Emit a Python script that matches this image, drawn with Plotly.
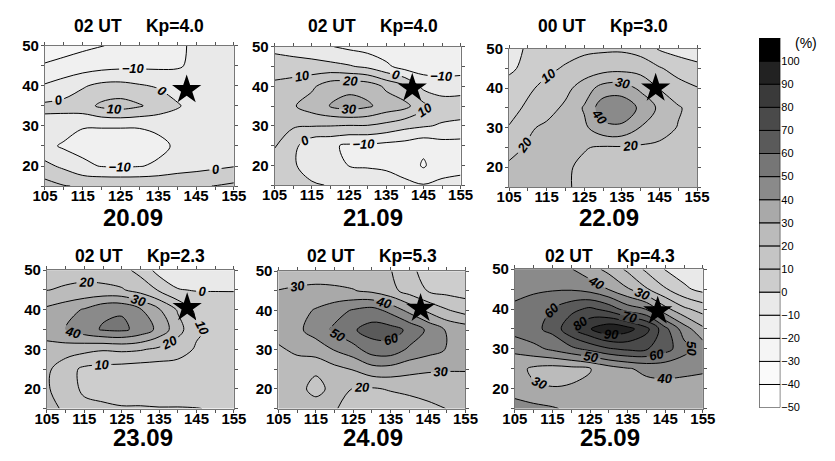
import plotly.graph_objects as go

# ---------------- data ----------------
LON = [105, 110, 115, 120, 125, 130, 135, 140, 145, 150, 155]
LAT = [15, 20, 25, 30, 35, 40, 45, 50]

# rows: LAT 15 ... 50 ; columns: LON 105 ... 155  (values in %)
Z_2009 = [
    [14, 10.5, 9, 9, 9, 9, 9, 8.5, 9, 10.2, 12],
    [2.5, -2, -8, -10.5, -11, -10.5, -8.5, -5, -3.5, -2, -0.5],
    [-7, -11.5, -13, -14, -14, -13.5, -12.5, -8.5, -6, -5, -4],
    [-3, -5, -9.5, -9.5, -9.5, -9.5, -8, -6, -5, -5, -5],
    [2, 3, 6, 12, 14, 11, 6, 1, -4, -5, -5],
    [-9, -5.4, -1, 2.5, 3, 1, -1, -4.3, -5, -5, -5],
    [-19, -17, -15, -13.5, -12.5, -12, -12, -11, -8, -7, -6],
    [-26, -24, -22, -20.5, -17, -15, -13, -11, -9, -8, -7],
]
Z_2109 = [
    [6, 4, 1, -0.5, -3, -5, -6, -9, -9.5, -9, -8],
    [7, 1, -4, -8, -10.2, -10.8, -11.5, -12, -21.5, -12, -12],
    [10.5, 3, -7, -8.5, -11.5, -11.5, -13, -14, -17, -14, -14],
    [13, 11, 10.5, 10.2, 9.5, 9.5, 7, 3, 1, -1, -2],
    [14, 19, 25, 30.5, 34, 31.5, 26, 23, 13, 5, 4.5],
    [12, 14, 18, 26, 27, 26, 18, 11, -3, -5, -4],
    [5.5, 5, 4.3, 2.9, 1, -2, -8, -14, -15, -15, -15],
    [-3, -5, -7, -9.5, -12, -14, -16, -17, -17, -17, -17],
]
Z_2209 = [
    [24, 24, 23, 21, 18, 16.5, 16, 15.5, 15, 14.5, 14],
    [21.5, 23, 22.5, 21, 18.5, 17, 16.5, 16, 15.5, 15, 14],
    [17, 21, 22, 21.5, 20.5, 19, 19, 18.5, 18, 17, 15],
    [10.5, 18.5, 22, 24, 28, 37, 38, 29.5, 24, 19.5, 15],
    [7, 11.5, 16, 22, 31, 46, 47, 38, 28, 21, 16],
    [4, 8.5, 12.5, 17, 25, 34, 35, 28, 19.5, 14, 10.5],
    [-2, 3, 8, 11, 14, 16, 17, 16, 11, 6, 3],
    [-3, 1, 4, 6.5, 8, 8.5, 8.5, 6, -1, -4, -6],
]
Z_2309 = [
    [22, 19, 13, 12.5, 11, 11, 10.5, 10.5, 10.2, 9.5, 9],
    [21, 15, 8, 5, 4, 4, 4, 4.5, 5, 5.5, 6],
    [22, 14, 8, 7, 6, 5, 5, 6, 6, 6.5, 7],
    [27, 25, 23, 21, 22, 21, 18, 14, 9, 8, 7],
    [34, 40.5, 46, 51, 52, 47, 37, 24, 11.5, 8, 7],
    [32, 36, 41, 48, 49, 41, 31, 19, 7.5, 6, 5.5],
    [19.8, 21, 22, 22, 21, 16, 9, 0.5, -0.5, -0.5, -0.5],
    [17, 17, 17, 16, 13, 7, -4, -6, -7, -8, -9],
]
Z_2409 = [
    [27, 27, 26, 21, 15, 14, 14, 15, 17, 20.2, 23],
    [26, 24, 16, 24, 19.5, 19, 20.8, 22.5, 25, 26, 26],
    [25, 25, 22, 27, 30.5, 36, 36, 33, 31, 30.5, 30.5],
    [28.5, 32, 35, 40.5, 46, 55, 56, 48, 44, 39.5, 35],
    [34, 38, 44, 52, 59, 64, 64, 58, 48, 39, 36],
    [33, 36, 41, 46, 51, 54, 47, 37, 28, 21, 16],
    [30.3, 31.5, 32, 31.5, 30.5, 28, 23, 16, 9.5, 7, 6],
    [24, 25, 26, 26, 25, 23, 20.5, 12, 7, 5, 4],
]
Z_2509 = [
    [45, 43, 41, 38, 36, 35, 35, 35, 36, 36, 36],
    [35, 31.5, 30.5, 31, 32, 33.5, 35, 36, 37, 37, 37],
    [34, 28, 26, 27, 29.5, 35, 39, 42.5, 43, 42, 41],
    [42, 47, 52, 57.5, 63, 69, 72, 71, 64, 54, 46],
    [55, 57.5, 63, 78, 89.5, 98, 94, 83, 63, 45, 32],
    [52, 56, 60, 67, 72, 66, 55, 49.5, 33, 22, 16],
    [47, 48, 49, 49, 46, 39.5, 31, 21, 11, 2, -3],
    [46, 45, 43, 40.5, 34, 27, 18, 8, -0.5, -5, -8],
]
Z_PANELS = [Z_2009, Z_2109, Z_2209, Z_2309, Z_2409, Z_2509]

DATES = ["20.09", "21.09", "22.09", "23.09", "24.09", "25.09"]
UT = ["02 UT", "02 UT", "00 UT", "02 UT", "02 UT", "02 UT"]
KP = ["Kp=4.0", "Kp=4.0", "Kp=3.0", "Kp=2.3", "Kp=5.3", "Kp=4.3"]
STAR_LON = [142.5, 142, 144, 142.5, 143, 143]
STAR_LAT = [39, 39.5, 40, 40.5, 40.5, 39.5]

X_TICK_TEXT = ["105", "", "115", "", "125", "", "135", "", "145", "", "155"]
Y_TICK_TEXT = ["", "20", "", "30", "", "40", "", "50"]

# contour levels / colour bands (-50 ... 110 step 10)
LEVEL_START, LEVEL_END, LEVEL_STEP = -50, 110, 10
BAND_LOWER = [-50, -40, -30, -20, -10, 0, 10, 20, 30, 40, 50, 60, 70, 80, 90, 100]
BAND_HEIGHT = [10] * 16
BAND_COLORS = ["#ffffff", "#fafafa", "#f5f5f5", "#f0f0f0", "#e9e9e9", "#cdcdcd",
               "#c5c5c5", "#bbbbbb", "#a9a9a9", "#8a8a8a", "#767676", "#5a5a5a",
               "#4a4a4a", "#3a3a3a", "#222222", "#000000"]
CB_TICKS = [-50, -40, -30, -20, -10, 0, 10, 20, 30, 40, 50, 60, 70, 80, 90, 100]

# ---------------- layout geometry (pixels) ----------------
W, H = 835, 461
PANEL_BOX = [(33, 228, 38, 183), (270, 462, 39, 182), (512, 706, 41, 184),
             (35, 228, 270, 413), (274, 467, 271, 413), (518, 712, 269, 413)]
TITLE_POS = [(130, 18), (372, 18), (609, 18), (131, 255), (371, 255), (616, 255)]
DATE_POS = [(124, 216), (372, 216), (615, 216), (134, 443), (372, 443), (616, 443)]
FONT = "Liberation Sans, Arial, sans-serif"


def fx(p):
    return p / W


def fy(p):
    return 1 - p / H


# stepped colour scale matched to plotly's contour fill mapping
n_levels = int((LEVEL_END - LEVEL_START) / LEVEL_STEP) + 1
span = n_levels * LEVEL_STEP
cs = [[0.0, BAND_COLORS[0]]]
for k, col in enumerate(BAND_COLORS):
    lo = (BAND_LOWER[k] - LEVEL_START + LEVEL_STEP / 2) / span
    hi = (BAND_LOWER[k] - LEVEL_START + 1.5 * LEVEL_STEP) / span
    cs.append([lo, col])
    cs.append([min(hi, 1.0), col])
cs.append([1.0, BAND_COLORS[-1]])

fig = go.Figure()
layout_axes = {}
annotations = []

for i in range(6):
    n = "" if i == 0 else str(i + 1)
    xa, ya = "x" + n, "y" + n
    fig.add_trace(go.Contour(
        x=LON, y=LAT, z=Z_PANELS[i], xaxis=xa, yaxis=ya,
        autocontour=False,
        contours=dict(start=LEVEL_START, end=LEVEL_END, size=LEVEL_STEP,
                      coloring="fill", showlabels=True,
                      labelfont=dict(family=FONT, size=13, color="black",
                                     weight="bold", style="italic")),
        colorscale=cs, showscale=False,
        line=dict(color="black", width=1, smoothing=1.0),
        hoverinfo="skip",
    ))
    fig.add_trace(go.Scatter(
        x=[STAR_LON[i]], y=[STAR_LAT[i]], xaxis=xa, yaxis=ya, mode="markers",
        marker=dict(symbol="star", size=22, color="black", line=dict(width=0)),
        hoverinfo="skip", showlegend=False,
    ))
    l, r, t, b = PANEL_BOX[i]
    tf = dict(family=FONT, size=15, color="black", weight="bold")
    layout_axes["xaxis" + n] = dict(
        domain=[fx(l), fx(r)], range=[105, 155], anchor=ya,
        tickvals=LON, ticktext=X_TICK_TEXT, ticks="outside", ticklen=3,
        tickcolor="#555", showline=True, linecolor="#777", linewidth=1,
        mirror="ticks", showgrid=False, zeroline=False, tickfont=tf,
        ticklabelstandoff=-7, fixedrange=True)
    layout_axes["yaxis" + n] = dict(
        domain=[fy(b), fy(t)], range=[15, 50], anchor=xa,
        tickvals=LAT, ticktext=Y_TICK_TEXT, ticks="outside", ticklen=3,
        tickcolor="#555", showline=True, linecolor="#777", linewidth=1,
        mirror="ticks", showgrid=False, zeroline=False, tickfont=tf,
        ticklabelstandoff=-1, fixedrange=True)
    tx, ty = TITLE_POS[i]
    annotations.append(dict(
        x=fx(tx), y=fy(ty), xref="paper", yref="paper", showarrow=False,
        xanchor="center", yanchor="middle",
        text=UT[i] + "\u00a0" * 5 + KP[i],
        font=dict(family=FONT, size=17.5, color="black", weight="bold")))
    dx, dy = DATE_POS[i]
    annotations.append(dict(
        x=fx(dx), y=fy(dy), xref="paper", yref="paper", showarrow=False,
        xanchor="center", yanchor="middle", text=DATES[i],
        font=dict(family=FONT, size=24, color="black", weight="bold")))

# colour bar drawn as stacked bands
fig.add_trace(go.Bar(
    x=[0] * len(BAND_LOWER), y=BAND_HEIGHT, base=BAND_LOWER, width=1,
    marker=dict(color=BAND_COLORS, line=dict(color="black", width=1)),
    xaxis="x7", yaxis="y7", hoverinfo="skip", showlegend=False,
))
layout_axes["xaxis7"] = dict(domain=[fx(770), fx(792)], range=[-0.5, 0.5],
                             visible=False, anchor="y7", fixedrange=True)
layout_axes["yaxis7"] = dict(domain=[fy(412), fy(30)], range=[-50, 110],
                             anchor="x7", side="right", tickvals=CB_TICKS,
                             ticks="", showline=False, showgrid=False,
                             zeroline=False, fixedrange=True,
                             tickfont=dict(family=FONT, size=11, color="black"))
annotations.append(dict(x=fx(818), y=fy(35), xref="paper", yref="paper",
                        showarrow=False, text="(%)", xanchor="center",
                        yanchor="middle",
                        font=dict(family=FONT, size=14, color="black")))

fig.update_layout(
    width=W, height=H, margin=dict(l=0, r=0, t=0, b=0),
    paper_bgcolor="white", plot_bgcolor="white", showlegend=False,
    barmode="overlay", annotations=annotations, **layout_axes,
)

fig.write_html(
    "out.html",
    config={"displayModeBar": False},
    post_script="document.body.style.margin='0';document.body.style.overflow='hidden';",
)
